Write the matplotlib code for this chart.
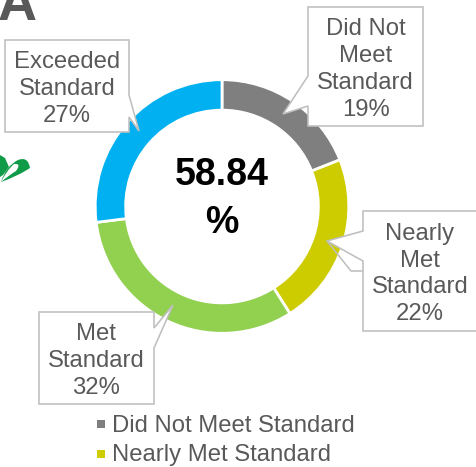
"""Donut of standard attainment with callout labels, on a pixel-sized canvas."""
import matplotlib

matplotlib.use("Agg")
import matplotlib.pyplot as plt
from matplotlib.patches import PathPatch, Polygon, Rectangle
from matplotlib.path import Path

categories = ["Did Not\nMeet\nStandard", "Nearly\nMet\nStandard", "Met\nStandard", "Exceeded\nStandard"]
shares = [19, 22, 32, 27]
colors = ["#7F7F7F", "#CCCC00", "#92D050", "#00B0F0"]
center_value = "58.84\n%"
legend_labels = ["Did Not Meet Standard", "Nearly Met Standard"]
legend_colors = ["#7F7F7F", "#CCCC00"]

W, H = 476, 467
GREY = "#595959"
EDGE = "#BFBFBF"

plt.rcParams["font.family"] = ["Liberation Sans", "DejaVu Sans"]

fig = plt.figure(figsize=(W / 100, H / 100), dpi=100)

# overlay in image pixels, y pointing down
ov = fig.add_axes([0, 0, 1, 1], zorder=2)
ov.set_xlim(0, W)
ov.set_ylim(H, 0)
ov.axis("off")
ov.patch.set_alpha(0)

# donut (radius includes the white edge that eats into the ring)
cx, cy, r = 222, 206.5, 126.8
pie_ax = fig.add_axes([(cx - r) / W, 1 - (cy + r) / H, 2 * r / W, 2 * r / H], zorder=1)
pie_ax.pie(shares, colors=colors, startangle=90, counterclock=False, radius=1,
           wedgeprops={"width": 0.24, "edgecolor": "white", "linewidth": 2.0})
pie_ax.set_xlim(-1, 1)
pie_ax.set_ylim(-1, 1)

ov.text(222, 199, center_value, ha="center", va="center", fontsize=27,
        fontweight="bold", color="black", linespacing=1.42)


def callout(ax, x0, y0, x1, y1, side, p0, p1, tip):
    # box outline with a wedge pointing at the ring
    if side == "right":
        pts = [(x0, y0), (x1, y0), (x1, p0), tip, (x1, p1), (x1, y1), (x0, y1)]
    elif side == "left":
        pts = [(x0, y0), (x1, y0), (x1, y1), (x0, y1), (x0, p1), tip, (x0, p0)]
    ax.add_patch(Polygon(pts, closed=True, facecolor="white", edgecolor=EDGE,
                         linewidth=1.15, joinstyle="miter", zorder=3))


# Exceeded / Did Not Meet / Nearly Met / Met callouts
callout(ov, 5, 40, 129, 132, "right", 95, 117, (139, 131))
callout(ov, 308, 7, 423, 126, "left", 76, 106, (283, 114))
callout(ov, 363, 211, 490, 331, "left", 231, 261, (327, 241))
callout(ov, 39, 312, 154, 404, "right", 328, 348, (173, 305))
ov.plot([327, 351, 363], [241, 271, 271], color=EDGE, lw=1.15, zorder=2.5, solid_joinstyle="miter")

label_pos = [(365.5, 69.5), (420, 274), (96, 361), (67, 89)]
for name, share, (tx, ty) in zip(categories, shares, label_pos):
    ov.text(tx, ty, f"{name}\n{share}%", ha="center", va="center", fontsize=17.2,
            color=GREY, linespacing=1.285, zorder=4)

# legend, cropped at the bottom of the original
for i, (lab, col) in enumerate(zip(legend_labels, legend_colors)):
    y = 424 + 30 * i
    ov.add_patch(Rectangle((97, y - 4), 8, 8, facecolor=col, edgecolor="none"))
    ov.text(112, y + 1.5, lab, ha="left", va="center", fontsize=17.2, color=GREY)

# panel letter, cut by the top of the image
ov.text(-2, 20, "A", ha="left", va="baseline", fontsize=39, fontweight="bold",
        color=GREY, clip_on=True)

# leaf fragment at the left edge
leaf = Path(
    [(1, 182), (6, 166), (18, 160), (28, 156), (30, 168), (18, 176), (1, 182),
     (1, 182), (8, 176), (16, 171), (22, 163), (14, 164), (7, 170), (1, 182)],
    [Path.MOVETO, Path.CURVE3, Path.CURVE3, Path.CURVE3, Path.CURVE3, Path.CURVE3, Path.CURVE3,
     Path.MOVETO, Path.CURVE3, Path.CURVE3, Path.CURVE3, Path.CURVE3, Path.CURVE3, Path.CURVE3],
)
ov.add_patch(PathPatch(leaf, facecolor="#0F9B48", edgecolor="none"))
ov.add_patch(Polygon([(0, 155), (5, 158), (9, 167), (3, 175), (0, 177)], closed=True,
                     facecolor="#0F9B48", edgecolor="none"))

fig.savefig("out.png", dpi=100)
